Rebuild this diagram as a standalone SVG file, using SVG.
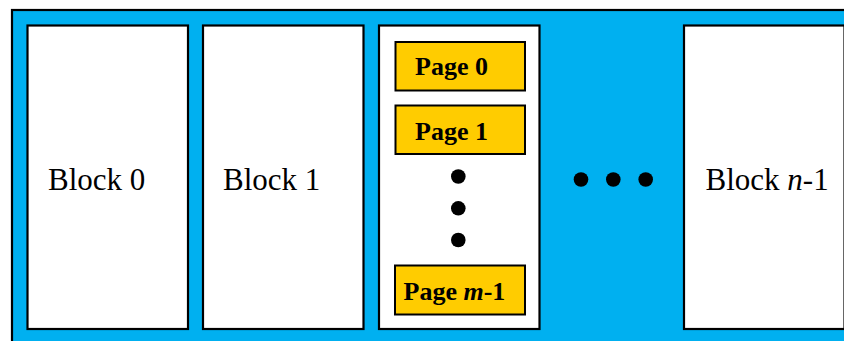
<svg xmlns="http://www.w3.org/2000/svg" width="844" height="341" viewBox="0 0 844 341">
<style>
.blk{fill:#fff;stroke:#000;stroke-width:2.2}
.pg{fill:#FFCC00;stroke:#000;stroke-width:2}
.bt{font-family:"Liberation Serif","Times New Roman",serif;font-size:31px;fill:#000}
.pt{font-family:"Liberation Serif","Times New Roman",serif;font-size:26px;font-weight:bold;fill:#000}
.dot{fill:#000}
</style>
<rect width="844" height="341" fill="#fff"/>
<rect x="12" y="10" width="840" height="340" fill="#00B0F0" stroke="#000" stroke-width="2.2"/>
<g id="block0">
<rect class="blk" x="27.5" y="25.5" width="160.5" height="303.5"/>
<text class="bt" x="48" y="189.5">Block 0</text>
</g>
<g id="block1">
<rect class="blk" x="203" y="25.5" width="160.5" height="303.5"/>
<text class="bt" x="223" y="189.5">Block 1</text>
</g>
<g id="block2">
<rect class="blk" x="379" y="25.5" width="160.5" height="303.5"/>
<g id="page0">
<rect class="pg" x="395.5" y="42" width="129.5" height="48.5"/>
<text class="pt" x="415" y="75">Page 0</text>
</g>
<g id="page1">
<rect class="pg" x="395.5" y="105.5" width="129.5" height="48.5"/>
<text class="pt" x="415" y="139.5">Page 1</text>
</g>
<circle class="dot" cx="458.3" cy="176.5" r="7.3"/>
<circle class="dot" cx="458.3" cy="208.3" r="7.3"/>
<circle class="dot" cx="458.3" cy="240" r="7.3"/>
<g id="pagem1">
<rect class="pg" x="395" y="265.5" width="130" height="49"/>
<text class="pt" x="403.5" y="300">Page <tspan font-style="italic">m</tspan>-1</text>
</g>
</g>
<g id="ellipsis">
<circle class="dot" cx="581" cy="179.5" r="7.3"/>
<circle class="dot" cx="613.3" cy="179.5" r="7.3"/>
<circle class="dot" cx="645.7" cy="179.5" r="7.3"/>
</g>
<g id="blockn1">
<rect class="blk" x="684" y="25.5" width="160.5" height="303.5"/>
<text class="bt" x="705.5" y="189.5">Block <tspan font-style="italic">n</tspan>-1</text>
</g>
<g id="connectors"/>
</svg>
